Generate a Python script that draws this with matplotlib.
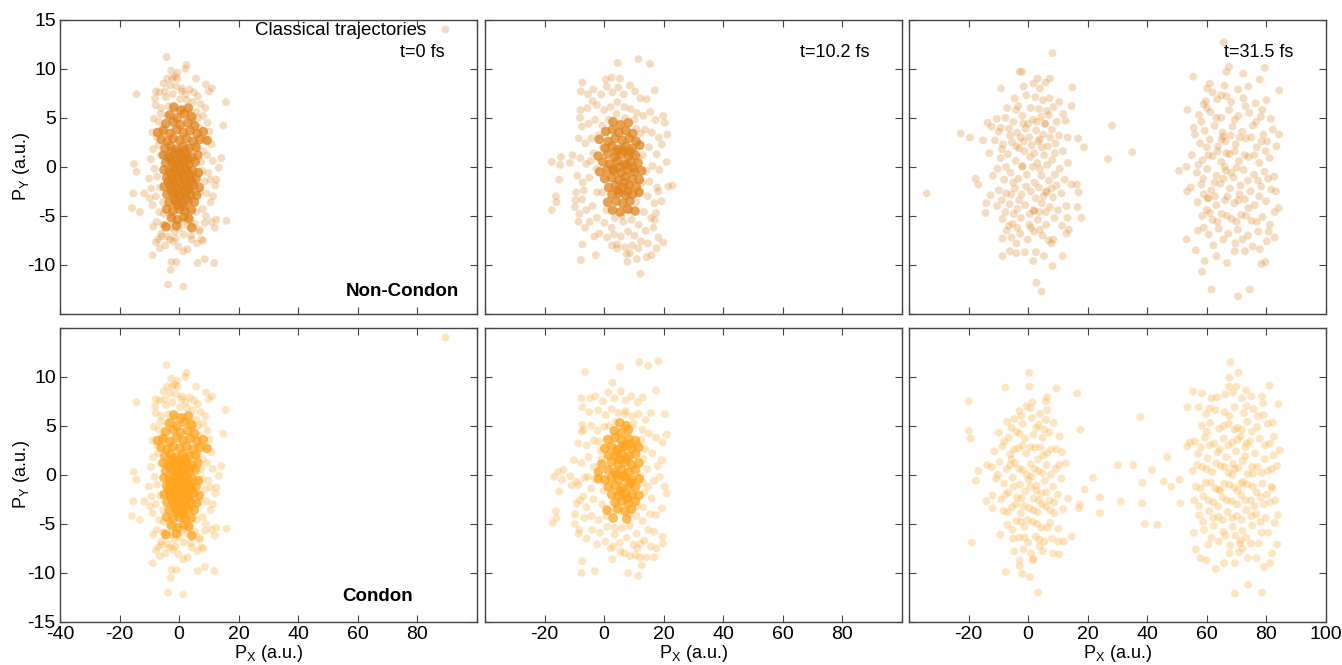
import numpy as np
import matplotlib
matplotlib.use('Agg')
import matplotlib.pyplot as plt
from matplotlib.lines import Line2D

plt.rcParams['font.family'] = ['Liberation Sans', 'DejaVu Sans']
plt.rcParams['axes.unicode_minus'] = False

# (P_x, P_y) in a.u.
# t=0 fs : same initial conditions in both rows
t0_outer = [(-4.2, 11.2), (2.5, 10.4), (2.1, 10.0), (-0.6, 9.6), (-1.4, 9.2), (-4.0, 9.0), (-2.3, 9.0), (5.7, 9.0),
            (-14.3, 7.4), (15.7, 6.6), (9.0, 8.4), (10.0, 7.7), (11.0, 8.0), (-7.8, 7.7), (-4.8, 7.7), (-8.1, 7.0),
            (14.8, 4.2), (-15.2, 0.3), (-14.3, -0.5), (-15.4, -2.7), (-15.8, -4.2), (-13.2, -4.6), (-11.7, -2.7),
            (-9.8, -3.2), (15.9, -5.5), (12.0, -6.2), (12.5, -5.4), (14.2, 0.9), (13.3, -0.1), (12.5, -1.3),
            (10.5, -1.3), (12.2, -1.9), (11.4, -3.0), (-8.9, -9.0), (-2.6, -9.7), (-0.9, -9.7), (-2.8, -10.5),
            (6.2, -9.8), (8.6, -9.4), (11.8, -9.8), (-3.7, -12.0), (1.4, -12.2), (1.4, -8.6), (4.2, -7.4),
            (7.5, -7.4), (8.1, -7.5), (-6.5, -8.3), (-7.8, -7.7), (-5.9, -7.1), (-3.1, -7.4), (-2.0, -7.6),
            (-8.7, -6.1), (-5.3, -5.9), (6.9, -6.4), (8.6, -5.7), (10.9, -5.6),
            (-5.2, 8.5), (-3.0, 8.3), (-1.0, 8.2), (1.0, 8.0), (3.5, 7.9), (5.0, 7.6), (6.3, 7.2), (-6.6, 7.6),
            (-4.4, 7.1), (-2.2, 7.4), (0.3, 6.9), (2.6, 6.8), (4.6, 6.6), (7.2, 6.4), (8.8, 6.0), (-7.9, 6.3),
            (-6.0, 6.0), (-3.5, 6.2), (-1.5, 5.8), (1.5, 5.9), (3.8, 5.5), (5.9, 5.6), (8.1, 5.2), (-8.5, 4.9),
            (-6.8, 4.6), (9.5, 4.5), (10.2, 3.6), (-9.0, 3.5), (-7.5, 3.0), (8.8, 2.8), (10.9, 2.3), (-8.8, 1.8),
            (-9.5, 0.8), (9.4, 1.2), (11.3, 0.6), (-8.2, -0.2), (-10.1, -1.2), (9.8, -0.6), (8.6, -1.5),
            (-9.3, -2.2), (-7.8, -3.0), (9.2, -2.7), (10.6, -3.6), (-8.9, -3.9), (-6.7, -4.6), (7.9, -4.3),
            (9.0, -5.0), (-7.5, -5.6), (-5.0, -5.9), (-2.6, -6.1), (0.2, -6.3), (2.8, -6.0), (5.4, -5.8),
            (6.8, -6.6), (-6.0, -6.8), (-3.8, -7.1), (-1.2, -7.3), (1.6, -6.9), (4.0, -7.0), (-4.6, -8.0),
            (-0.3, -8.1), (2.8, -8.4), (-7.0, -7.4), (6.0, -7.8), (-3.0, -4.9), (3.4, -5.2), (-5.6, 3.9),
            (6.8, 4.0), (-6.4, -2.1), (6.9, -2.6), (-6.1, 1.2), (7.4, 0.5), (-5.4, -3.6), (6.2, 2.0),
            (-4.0, 5.2), (4.5, 4.7), (0.9, 7.7), (-2.7, 9.8), (-7.0, 2.2), (-7.4, -1.0), (7.8, -0.4), (8.0, 1.6),
            (-6.2, 5.4), (6.4, 5.0), (-5.2, -4.8), (5.8, -4.6), (-1.6, -6.6), (1.0, -5.6), (2.2, 7.4), (-0.6, 9.0)]
t0_core = [(-1.8, 6.1), (0.6, 5.8), (3.1, 6.0), (-3.2, 5.3), (-0.7, 5.0), (1.8, 5.4), (4.2, 5.1),
           (-4.5, 4.4), (-2.0, 4.6), (0.4, 4.3), (2.9, 4.5), (5.2, 4.2),
           (-7.2, 3.5), (-5.3, 3.7), (-3.1, 3.4), (-0.9, 3.8), (1.4, 3.5), (3.7, 3.7), (6.0, 3.4), (8.1, 3.6),
           (-6.0, 2.8), (-4.1, 2.6), (-2.0, 2.9), (0.2, 2.7), (2.5, 2.9), (4.7, 2.6), (7.0, 2.8), (9.4, 2.7),
           (-4.8, 1.9), (-2.9, 2.1), (-0.8, 1.8), (1.3, 2.1), (3.4, 1.9), (5.6, 2.0),
           (-5.3, 1.2), (-3.6, 1.0), (-1.6, 1.3), (0.4, 1.1), (2.3, 1.3), (4.3, 1.0), (6.3, 1.2),
           (-4.5, 0.4), (-2.5, 0.5), (-0.5, 0.3), (1.5, 0.6), (3.4, 0.3), (5.4, 0.5),
           (-5.1, -0.3), (-3.3, -0.5), (-1.3, -0.2), (0.6, -0.5), (2.5, -0.3), (4.6, -0.4), (6.5, -0.6),
           (-4.2, -1.1), (-2.2, -1.3), (-0.3, -1.0), (1.7, -1.3), (3.7, -1.1), (5.7, -1.2),
           (-5.0, -2.0), (-3.1, -1.9), (-1.1, -2.1), (0.9, -1.9), (2.9, -2.1), (4.8, -1.9), (6.8, -2.1),
           (-4.1, -2.8), (-2.0, -2.7), (0.0, -2.9), (2.0, -2.7), (4.0, -2.8), (5.9, -2.9),
           (-3.3, -3.6), (-1.2, -3.5), (0.9, -3.7), (3.0, -3.5), (5.1, -3.6),
           (-4.2, -4.3), (-2.1, -4.5), (0.0, -4.3), (2.0, -4.5), (4.1, -4.4),
           (-2.6, -5.2), (-0.6, -5.4), (1.6, -5.1), (3.3, -5.3), (-4.4, -6.1), (-0.9, -6.0), (4.3, -6.2),
           (-2.4, 1.6), (-0.2, 1.5), (2.0, 1.7), (-3.0, 0.8), (-0.9, 0.7), (1.0, 0.9), (3.0, 0.8),
           (-2.0, -0.1), (0.1, 0.1), (2.0, 0.0), (-2.8, -0.8), (-0.7, -0.7), (1.3, -0.8), (3.3, -0.7),
           (-1.7, -1.6), (0.4, -1.5), (2.4, -1.6), (-2.6, -2.4), (-0.5, -2.3), (1.6, -2.4), (3.5, -2.3),
           (-1.6, -3.2), (0.4, -3.1), (2.5, -3.2), (-0.6, -3.9), (1.5, -4.0), (-3.6, -1.5), (4.2, -1.5)]

# t=10.2 fs, Non-Condon
t10_nc_outer = [(4.5, 10.6), (11.5, 11.0), (15.4, 10.5), (-7.3, 8.6), (-7.8, 7.7), (0.6, 8.9), (2.5, 9.1),
                (5.3, 9.0), (17.0, 7.8), (-3.9, 6.7), (-7.9, 5.8), (-8.1, 5.0), (19.8, 5.2), (20.4, 4.5),
                (21.2, 3.3), (21.0, 0.5), (21.5, -2.0), (23.0, -1.9), (-14.5, 1.0), (-17.6, 0.5), (-14.8, 0.2),
                (-11.5, 0.4), (-15.1, -1.3), (-16.2, -3.0), (-16.0, -3.6), (-17.6, -4.4), (-9.6, -3.4),
                (-9.8, -4.1), (-8.3, -4.8), (-6.4, -6.2), (-7.3, -7.9), (-7.8, -9.5), (-2.8, -9.0), (-3.3, -7.1),
                (7.8, -9.7), (12.2, -10.9), (14.3, -9.2), (15.9, -9.0), (17.6, -8.3), (19.8, -7.7), (18.2, -7.2),
                (11.5, -8.3), (8.7, -8.8), (7.0, -8.2), (4.4, -7.9), (17.0, -5.4), (17.4, -4.7), (18.2, -2.5),
                (19.3, -3.5),
                (-3.6, 7.9), (-1.0, 7.4), (0.9, 8.2), (2.8, 7.6), (4.8, 8.1), (6.6, 7.4), (8.7, 8.3), (10.4, 7.7),
                (12.2, 7.0), (14.3, 6.9), (-5.6, 6.0), (-2.4, 6.3), (0.0, 5.8), (2.2, 6.1), (4.4, 6.6), (6.8, 6.1),
                (8.9, 5.9), (11.0, 5.5), (13.2, 5.2), (15.5, 5.6), (17.2, 4.8), (-7.5, 4.1), (-5.2, 4.4),
                (-3.0, 4.8), (13.8, 3.8), (16.0, 3.5), (18.4, 3.0), (-8.5, 2.9), (-6.3, 2.4), (-4.2, 2.9),
                (15.1, 2.0), (17.6, 1.3), (19.4, 2.3), (-10.6, 1.2), (-8.0, 0.9), (-6.0, 0.3), (16.2, 0.1),
                (18.5, -0.3), (-9.0, -0.9), (-7.2, -1.6), (-5.0, -1.1), (15.2, -1.5), (17.8, -2.1), (-9.4, -2.6),
                (-7.4, -3.3), (14.6, -3.0), (16.9, -3.7), (-6.0, -4.4), (-3.9, -4.0), (13.4, -4.6), (15.8, -5.2),
                (-4.8, -5.6), (-2.4, -5.2), (0.1, -5.7), (2.5, -6.2), (11.6, -5.9), (13.9, -6.5), (-1.6, -6.8),
                (1.0, -7.2), (3.3, -6.9), (5.6, -7.1), (8.0, -6.6), (10.2, -7.0), (12.4, -7.6), (14.7, -7.8),
                (4.4, -8.3), (9.4, -8.0), (6.4, -5.6), (9.2, -5.4), (-0.6, 4.2), (10.8, 3.9), (12.0, -2.4),
                (-2.4, -2.6), (-3.6, 1.4), (11.4, 1.0), (7.6, -8.9),
                (-1.8, 3.2), (-0.4, 2.0), (-2.6, -0.2), (-0.6, -2.6), (0.8, -4.4), (3.6, -5.2), (6.0, -5.0),
                (8.4, -4.4), (10.8, -3.6), (12.8, -1.6), (13.0, 1.2), (12.2, 3.4), (10.2, 4.8), (7.0, 5.0),
                (4.2, 5.4), (1.6, 4.8), (-4.6, 0.6), (-6.8, -2.4), (14.2, -0.4), (2.6, -8.0), (11.0, -9.4),
                (-5.4, 7.4), (16.6, -6.2), (-8.6, -5.6)]
t10_nc_core = [(3.0, 4.6), (5.5, 4.3), (8.1, 4.5), (0.5, 3.6), (2.8, 3.8), (5.0, 3.5), (7.3, 3.7), (9.6, 3.4),
               (-1.6, 2.8), (1.4, 2.6), (3.7, 2.9), (6.1, 2.7), (8.4, 2.9), (10.8, 2.6),
               (0.3, 1.9), (2.6, 2.1), (4.9, 1.8), (7.2, 2.1), (9.5, 1.9), (12.0, 2.2),
               (-2.0, 1.1), (1.2, 1.3), (3.6, 1.0), (5.9, 1.3), (8.2, 1.1), (10.5, 1.2),
               (-0.4, 0.5), (2.0, 0.3), (4.4, 0.6), (6.7, 0.3), (9.0, 0.5), (11.4, 0.4),
               (-1.5, -0.5), (1.0, -0.3), (3.3, -0.4), (5.6, -0.6), (7.9, -0.3), (10.2, -0.5), (12.6, -0.4),
               (0.2, -1.2), (2.6, -1.1), (4.9, -1.3), (7.2, -1.0), (9.5, -1.2), (11.8, -1.3),
               (1.5, -2.1), (3.8, -1.9), (6.1, -2.1), (8.4, -1.9), (10.7, -2.0),
               (2.6, -2.8), (4.9, -2.7), (7.3, -2.9), (9.6, -2.8), (11.7, -2.6),
               (1.2, -3.6), (4.0, -3.5), (6.3, -3.7), (8.6, -3.5), (2.8, -4.4), (5.4, -4.6), (7.9, -4.3),
               (10.4, -4.5), (4.0, 1.6), (6.4, 1.7), (8.8, 1.5), (5.2, 0.0), (7.6, 0.2), (3.0, -0.2),
               (6.8, -1.6), (4.6, -2.4), (8.0, -2.5), (9.8, -0.1)]

# t=10.2 fs, Condon
t10_c_outer = [(-6.4, 10.5), (5.3, 11.0), (11.8, 11.5), (14.8, 11.1), (18.2, 11.6), (2.8, 9.4), (17.4, 8.6),
               (-7.6, 7.8), (-7.3, 6.9), (20.4, 6.2), (-7.3, 5.1), (-7.6, 4.4), (21.0, 4.1), (19.6, 3.3),
               (19.3, 1.5), (-16.8, -0.2), (-15.4, 0.3), (-13.7, 0.5), (-14.1, -0.5), (-11.3, -0.15),
               (-10.9, -1.1), (-9.2, -0.7), (-15.1, -1.7), (-16.2, -3.7), (-16.0, -4.4), (-17.3, -4.9),
               (-9.8, -5.0), (-8.3, -5.6), (-5.9, -6.5), (-7.3, -8.8), (-7.6, -10.0), (-3.1, -9.8), (8.1, -10.0),
               (11.5, -10.3), (8.7, -8.3), (12.0, -8.4), (14.2, -8.4), (16.8, -8.4), (17.6, -7.5), (19.8, -7.0),
               (19.6, -6.3), (5.5, -7.8), (3.1, -7.3), (11.1, -7.5), (17.4, -4.1), (19.3, -3.4), (21.0, -1.9),
               (20.4, -1.2), (18.7, -0.2), (-9.8, -4.0), (-9.2, -2.9),
               (-3.0, 8.0), (-0.4, 7.5), (1.4, 8.4), (3.5, 7.8), (5.6, 8.5), (7.2, 7.6), (9.1, 8.0), (11.3, 7.4),
               (13.0, 7.9), (-5.0, 6.4), (-2.0, 6.6), (0.5, 6.1), (2.6, 6.7), (4.8, 6.3), (7.3, 6.5), (9.5, 6.0),
               (11.6, 6.2), (13.9, 5.6), (15.7, 6.3), (-6.9, 4.6), (-4.4, 5.0), (-2.2, 4.5), (0.0, 4.9),
               (12.8, 4.6), (15.0, 4.2), (17.4, 3.8), (-8.7, 3.2), (-5.8, 3.0), (-3.5, 3.5), (13.9, 2.6),
               (16.2, 2.2), (18.0, 0.9), (-10.2, 1.5), (-7.6, 1.2), (-5.2, 1.8), (-3.4, 0.8), (14.5, 0.6),
               (16.8, -0.6), (-8.6, -1.0), (-6.5, -0.3), (-4.3, -1.4), (13.6, -1.8), (15.9, -2.4), (-8.1, -2.6),
               (-6.0, -3.3), (-3.6, -2.5), (13.2, -3.3), (15.5, -4.0), (-6.6, -4.4), (-4.2, -4.2), (-1.8, -4.6),
               (12.9, -4.7), (14.8, -5.6), (-4.0, -5.6), (-1.4, -5.9), (1.0, -5.3), (3.6, -6.1), (10.9, -6.0),
               (13.5, -6.7), (-2.4, -7.1), (0.4, -6.8), (2.2, -7.5), (5.3, -6.9), (7.6, -6.4), (9.8, -7.1),
               (12.2, -7.0), (15.6, -7.3), (6.8, -8.0), (10.6, -8.2), (8.6, -5.2), (10.8, -4.2), (-1.2, 2.4),
               (-0.2, -1.6), (12.2, 0.0), (11.4, 3.2),
               (-1.8, 3.4), (-0.8, 1.6), (-3.0, -0.4), (-0.6, -3.0), (0.8, -4.2), (3.6, -5.4), (6.0, -5.4),
               (8.6, -4.0), (11.0, -3.2), (13.0, -0.8), (13.2, 1.6), (12.6, 3.6), (10.0, 5.2), (7.0, 6.2),
               (4.0, 5.4), (1.6, 5.0), (-5.4, -0.2), (-7.0, -2.2), (14.8, -1.2), (2.8, -8.6), (12.6, -9.2),
               (-4.6, 7.8), (16.8, -5.8), (-8.6, -6.0)]
t10_c_core = [(5.3, 5.3), (7.4, 5.0), (3.4, 4.5), (5.8, 4.3), (8.2, 4.6),
              (1.2, 3.6), (3.6, 3.8), (5.9, 3.5), (8.2, 3.7), (10.5, 3.5),
              (0.2, 2.7), (2.5, 2.9), (4.8, 2.6), (7.1, 2.9), (9.4, 2.7), (11.6, 2.8),
              (1.4, 2.0), (3.7, 1.9), (6.0, 2.1), (8.3, 1.9), (10.6, 2.1),
              (-0.8, 1.1), (2.4, 1.3), (4.7, 1.1), (7.0, 1.3), (9.3, 1.0), (11.7, 1.2),
              (-1.9, 0.3), (1.3, 0.5), (3.6, 0.3), (5.9, 0.5), (8.2, 0.3), (10.5, 0.5),
              (-2.0, -0.4), (0.3, -0.5), (2.5, -0.3), (4.8, -0.5), (7.1, -0.3), (9.4, -0.5), (11.8, -0.4),
              (1.4, -1.2), (3.7, -1.1), (6.0, -1.3), (8.3, -1.1), (10.6, -1.2),
              (2.5, -2.0), (4.8, -2.1), (7.1, -1.9), (9.4, -2.0), (11.7, -2.1),
              (3.6, -2.8), (5.9, -2.7), (8.2, -2.9), (10.5, -2.7), (1.0, -3.6), (4.4, -3.5), (6.9, -3.7),
              (9.2, -3.5), (3.0, -4.4), (7.6, -4.5), (5.2, 1.6), (7.6, 1.6), (4.2, 0.0), (6.6, -0.1),
              (8.8, -0.8), (5.5, -1.7), (7.8, -2.4), (6.4, 3.0), (8.6, 3.1), (4.1, 2.4)]

# t=31.5 fs, Non-Condon (two groups plus a few in between)
t31_nc = [(8.2, 11.6), (-2.8, 9.7), (-2.0, 9.7), (-9.1, 8.0), (3.2, 9.0), (7.3, 9.0), (14.9, 8.1), (14.6, 6.2),
          (-13.6, 4.5), (-22.6, 3.4), (-19.5, 3.0), (-15.1, 2.7), (16.8, 2.9), (18.8, 2.0), (-34.0, -2.7),
          (-17.6, -1.2), (-16.7, -1.8), (-14.0, -3.7), (-14.3, -4.7), (16.4, -1.8), (17.0, -2.6), (16.6, -4.1),
          (17.9, -5.2), (13.2, -5.2), (13.7, -6.4), (12.9, -6.8), (8.4, -7.4), (7.9, -7.8), (11.6, -9.1),
          (8.2, -10.1), (5.3, -9.1), (1.7, -9.6), (2.6, -8.7), (-1.1, -8.7), (-3.9, -8.8), (-6.1, -8.6),
          (-8.6, -9.1), (-8.6, -7.3), (-7.2, -6.5), (-3.9, -7.8), (2.8, -11.8), (4.5, -12.7), (-9.1, 4.0),
          (-1.5, 8.2), (1.8, 8.5), (4.0, 8.0), (5.9, 8.6), (-4.5, 7.0), (-0.6, 7.3), (2.4, 7.1), (5.0, 6.8),
          (7.2, 7.0), (10.5, 6.6), (-3.3, 6.2), (0.9, 6.0), (3.6, 5.9), (6.3, 5.7), (8.5, 6.1), (11.8, 5.4),
          (-10.5, 4.9), (-7.6, 5.0), (-5.0, 4.6), (-1.9, 5.2), (1.7, 4.8), (4.4, 5.1), (5.8, 4.4), (9.6, 4.6),
          (12.6, 4.7), (-12.3, 4.1), (-9.9, 3.6), (-6.4, 3.9), (-3.7, 3.5), (-0.8, 3.9), (2.7, 3.7), (5.1, 3.3),
          (8.0, 3.8), (10.4, 3.2), (13.3, 3.0), (-11.1, 2.7), (-8.4, 2.3), (-5.4, 2.5), (-3.0, 1.9), (-1.5, 2.6),
          (1.2, 2.2), (3.9, 2.8), (6.6, 2.1), (9.2, 2.4), (11.7, 1.6), (-13.0, 1.4), (-9.2, 0.9), (-6.8, 1.3),
          (-4.1, 0.6), (-1.9, 0.1), (0.7, 1.0), (3.1, 0.4), (5.4, 1.2), (8.1, 0.7), (10.6, -0.2), (13.4, 0.4),
          (-11.8, -0.9), (-8.0, -1.3), (-5.9, -0.6), (-3.2, -1.2), (-0.4, -0.8), (2.2, -1.6), (4.5, -0.9),
          (7.0, -1.4), (9.6, -1.9), (12.3, -1.3), (14.6, -1.8), (-12.6, -2.9), (-9.8, -2.4), (-7.4, -2.7),
          (-4.4, -2.2), (-2.1, -2.8), (0.9, -2.5), (3.6, -2.1), (6.0, -2.6), (8.4, -3.1), (11.2, -2.7),
          (-10.4, -4.0), (-6.2, -3.8), (-3.6, -4.3), (-1.0, -3.9), (1.9, -4.4), (4.6, -3.7), (7.3, -4.1),
          (10.0, -4.4), (12.9, -4.0), (-8.6, -5.3), (-5.2, -5.8), (-2.4, -5.2), (0.4, -5.9), (3.3, -5.4),
          (6.1, -5.9), (8.9, -5.2), (11.4, -6.0), (-5.6, -7.2), (-2.7, -6.8), (-0.1, -7.4), (2.0, -6.6),
          (4.8, -7.0), (6.9, -7.5), (-1.9, 0.0), (5.6, 4.4), (6.2, -2.5), (2.0, -4.5), (-3.9, 2.1), (3.4, 2.6),
          (-7.0, 6.0), (-4.0, 5.8), (0.0, 4.4), (3.0, 4.6), (7.0, 5.3), (-8.8, 1.8), (-6.0, 3.2), (-2.4, 3.0),
          (0.4, 3.0), (2.0, 1.4), (4.6, 2.0), (7.4, 3.0), (-10.2, -0.2), (-7.4, 0.0), (-5.0, -1.6), (-1.2, 1.6),
          (1.6, 0.0), (4.0, -0.2), (6.4, 0.2), (9.0, -0.8), (-8.8, -3.4), (-5.6, -2.8), (-3.0, -3.4),
          (-0.6, -2.0), (2.6, -3.2), (5.2, -3.0), (7.8, -2.2), (-7.6, -4.6), (-4.8, -4.8), (0.6, -4.8),
          (3.8, -4.6), (6.0, -4.6), (-3.6, -6.2), (1.0, -6.2), (4.0, -6.4), (-1.6, 4.4), (9.0, 1.4), (-6.4, -6.0),
          (28.2, 4.2), (26.8, 0.8), (35.0, 1.5),
          (65.7, 12.7), (67.5, 10.2), (66.6, 9.7), (72.2, 9.5), (79.5, 10.1), (55.4, 9.2), (61.0, 8.5),
          (60.1, 8.0), (77.8, 8.9), (84.3, 7.8), (53.5, 5.8), (59.7, 6.7), (64.9, 7.3), (50.7, -0.4), (53.2, 0.0),
          (53.4, -2.5), (56.0, 3.3), (84.3, 3.3), (83.4, 2.1), (82.6, -1.0), (83.2, -2.5), (84.2, -4.2),
          (82.8, -4.6), (81.2, -5.9), (80.8, -6.6), (82.8, -7.2), (77.8, -8.4), (79.7, -9.7), (78.4, -9.9),
          (53.2, -7.4), (56.3, -8.5), (59.3, -9.6), (58.4, -10.7), (63.3, -9.1), (66.8, -9.8), (69.4, -8.6),
          (72.8, -8.6), (61.6, -12.5), (70.5, -13.2), (74.4, -12.5),
          (62.0, 7.6), (66.0, 8.3), (70.5, 7.9), (74.0, 8.2), (59.0, 6.4), (63.5, 6.9), (68.2, 6.6), (72.3, 7.0),
          (76.4, 6.5), (80.0, 6.8), (57.4, 5.3), (61.2, 5.6), (64.8, 5.0), (67.5, 5.8), (70.6, 5.2), (74.3, 5.5),
          (78.2, 5.1), (81.5, 4.9), (55.6, 4.0), (59.3, 3.7), (62.6, 4.2), (65.4, 3.5), (68.6, 4.1), (71.9, 3.6),
          (75.5, 4.2), (79.0, 3.3), (82.2, 3.8), (57.8, 2.4), (61.0, 2.8), (63.8, 2.1), (66.3, 2.6), (69.7, 2.3),
          (73.1, 2.9), (76.8, 2.0), (80.3, 2.6), (55.0, 1.2), (58.6, 0.7), (62.0, 1.1), (64.9, 0.5), (67.6, 1.3),
          (70.8, 0.6), (74.0, 1.0), (77.6, 0.4), (81.1, 0.9), (56.7, -0.6), (60.2, -0.2), (63.3, -0.9),
          (66.4, -0.4), (69.0, -1.1), (72.4, -0.3), (75.9, -0.8), (79.4, -0.5), (54.6, -2.1), (58.2, -1.8),
          (61.5, -2.4), (64.6, -1.7), (67.8, -2.2), (71.3, -1.9), (74.7, -2.5), (78.3, -2.0), (81.6, -2.3),
          (56.9, -3.6), (60.4, -3.2), (63.2, -3.9), (66.1, -3.4), (69.3, -3.7), (72.8, -3.3), (76.1, -3.9),
          (79.9, -3.5), (58.5, -5.0), (61.9, -5.4), (65.0, -4.8), (68.4, -5.3), (71.6, -4.9), (75.0, -5.5),
          (78.7, -5.1), (57.0, -6.5), (60.7, -6.9), (64.0, -6.3), (67.2, -6.8), (70.4, -6.4), (73.8, -7.0),
          (77.3, -6.6), (62.2, -8.0), (69.6, -7.8), (75.4, -8.1), (66.6, 1.4), (70.0, -0.1), (60.5, -3.2),
          (61.0, -4.7), (65.5, 3.1),
          (60.0, 6.0), (66.6, 7.2), (73.0, 6.2), (78.6, 5.8), (58.2, 4.6), (63.2, 5.0), (69.4, 4.8), (76.6, 4.6),
          (60.0, 2.0), (65.0, 2.8), (68.0, 3.2), (71.0, 3.0), (75.0, 3.0), (78.4, 2.6), (57.2, 0.2), (60.6, 1.2),
          (63.6, 1.6), (66.0, 0.0), (69.4, 1.6), (72.8, 1.2), (76.0, 1.2), (79.8, 1.6), (58.8, -1.2),
          (62.6, -1.6), (65.6, -1.2), (68.2, -0.6), (71.0, -2.8), (73.8, -1.4), (77.2, -1.4), (80.6, -1.2),
          (59.0, -2.8), (62.8, -3.0), (67.0, -3.0), (70.6, -3.4), (74.0, -4.2), (77.6, -3.0), (60.0, -4.4),
          (63.6, -5.6), (66.8, -5.0), (70.0, -5.6), (73.2, -5.0), (76.8, -5.6), (59.0, -6.2), (65.6, -7.4),
          (72.0, -7.4), (80.2, -7.6)]

# t=31.5 fs, Condon
t31_c = [(-19.9, 7.5), (0.4, 10.4), (0.4, 9.0), (-7.6, 8.9), (9.5, 8.8), (16.5, 8.3), (6.4, 7.9), (1.5, 7.4),
         (-0.5, 7.0), (6.0, 7.5), (-19.9, 4.5), (-19.3, 3.7), (17.6, 4.6), (-13.7, 1.0), (-16.7, 0.4),
         (-17.5, -0.6), (-14.0, -2.7), (-11.9, -3.4), (21.8, -0.3), (19.0, -1.5), (17.4, -3.0), (17.1, -3.4),
         (14.6, -6.3), (12.0, -6.8), (10.1, -6.8), (10.4, -8.1), (8.4, -8.0), (-18.9, -6.9), (-9.3, -6.1),
         (-5.0, -6.5), (-4.7, -7.8), (-2.8, -8.7), (-2.8, -9.3), (1.7, -8.6), (-7.5, -9.9), (-2.0, -10.1),
         (0.6, -10.4), (3.4, -12.0), (3.9, -7.3),
         (-2.9, 6.5), (0.8, 6.8), (4.0, 6.2), (6.4, 6.6), (-7.0, 5.4), (-4.6, 5.7), (-1.8, 5.2), (1.3, 5.8),
         (3.6, 5.1), (6.0, 5.6), (8.6, 5.3), (-9.8, 4.3), (-6.4, 3.8), (-3.9, 4.4), (-1.0, 3.7), (1.8, 4.1),
         (4.9, 3.8), (7.1, 4.3), (10.6, 3.9), (-11.3, 2.4), (-8.6, 2.9), (-5.9, 2.1), (-3.2, 2.7), (-0.6, 2.2),
         (2.3, 2.8), (5.1, 2.0), (7.8, 2.6), (11.4, 2.3), (-12.2, 0.8), (-9.6, 1.3), (-7.1, 0.6), (-4.4, 1.2),
         (-1.8, 0.5), (0.9, 1.1), (3.5, 0.4), (6.2, 1.0), (9.3, 0.6), (12.6, 1.2), (-10.7, -0.4), (-8.0, -0.9),
         (-5.2, -0.3), (-2.6, -1.0), (0.2, -0.5), (2.8, -1.1), (5.6, -0.6), (8.4, -1.2), (11.2, -0.4),
         (-11.9, -2.1), (-9.0, -2.5), (-6.6, -1.8), (-3.7, -2.3), (-1.0, -1.7), (1.9, -2.4), (4.4, -1.9),
         (7.2, -2.6), (10.0, -2.0), (13.5, -2.4), (-8.2, -3.7), (-5.4, -3.3), (-2.5, -3.9), (0.4, -3.4),
         (3.2, -3.8), (6.0, -3.2), (8.8, -3.9), (11.8, -3.5), (-6.9, -5.1), (-3.9, -4.7), (-1.2, -5.3),
         (1.6, -4.8), (4.5, -5.4), (7.4, -4.9), (10.3, -5.5), (-3.0, -6.4), (0.0, -6.9), (2.6, -6.3),
         (5.5, -6.8), (8.0, -6.5), (-1.5, -7.6), (1.0, -8.0), (5.0, -7.8), (-2.8, 4.2), (4.2, 2.8),
         (-5.6, 1.6), (1.1, -0.2), (2.8, -1.6), (-0.2, -4.6), (1.7, -8.7),
         (-5.6, 4.8), (-2.2, 6.0), (2.8, 4.8), (5.4, 4.6), (-8.0, 3.4), (-4.6, 2.6), (-1.8, 3.0), (0.8, 2.8),
         (3.4, 1.6), (6.4, 2.2), (9.6, 2.6), (-10.2, 0.0), (-6.0, 1.0), (-3.0, 0.6), (-0.4, 0.0), (2.2, 0.6),
         (4.8, 0.2), (7.6, 0.0), (10.4, 1.0), (-7.6, -2.0), (-4.8, -1.2), (-2.2, -2.4), (0.8, -1.2),
         (3.6, -2.6), (6.2, -1.8), (8.8, -2.8), (-6.8, -3.8), (-4.0, -3.0), (-1.4, -3.2), (1.8, -3.6),
         (4.6, -3.0), (7.4, -3.6), (-5.2, -5.6), (-2.4, -4.8), (3.0, -5.0), (6.4, -5.4), (-1.2, -6.4), (3.8, -6.6),
         (37.7, 5.9), (30.2, 1.0), (35.3, 1.0), (41.6, 0.5), (46.7, 1.8), (38.4, -0.8), (45.6, -0.7),
         (31.1, -2.7), (38.3, -2.9), (24.2, -2.3), (24.2, -3.9), (39.2, -5.0), (43.4, -5.1), (48.1, -1.2),
         (50.9, -0.5), (51.2, -2.9), (54.3, 3.3), (53.5, 2.9),
         (68.0, 11.5), (70.7, 10.4), (67.5, 9.9), (67.5, 9.0), (69.9, 9.0), (68.8, 8.4), (55.4, 8.5),
         (58.4, 8.3), (53.5, 6.9), (57.3, 6.9), (61.6, 7.8), (81.1, 9.1), (84.1, 7.2), (78.6, 8.0), (73.3, 8.6),
         (78.9, 7.3), (82.2, 5.3), (82.5, 3.9), (84.5, 2.5), (83.6, 0.9), (81.7, -1.2), (83.0, -2.6),
         (83.9, -4.1), (82.8, -4.9), (80.6, -5.9), (83.6, -7.1), (81.9, -8.0), (81.3, -9.0), (79.2, -9.4),
         (76.7, -8.5), (73.9, -8.5), (69.4, -9.0), (65.8, -9.0), (63.0, -9.6), (59.9, -8.7), (57.9, -8.5),
         (56.3, -7.6), (55.7, -5.9), (73.9, -11.2), (69.4, -12.1), (78.6, -12.0), (71.1, -7.0), (72.0, -7.5),
         (67.7, -8.0), (70.8, -7.9),
         (63.4, 7.9), (66.2, 8.2), (71.8, 7.8), (75.0, 8.0), (59.8, 6.2), (62.9, 6.6), (66.0, 6.4), (69.3, 6.9),
         (72.5, 6.3), (75.7, 6.7), (79.1, 6.1), (58.3, 5.0), (61.1, 5.3), (64.2, 4.7), (67.4, 5.2), (70.3, 4.8),
         (73.6, 5.4), (76.9, 4.9), (80.4, 5.2), (56.0, 3.4), (59.4, 3.8), (62.5, 3.2), (65.6, 3.7), (68.7, 3.3),
         (71.4, 3.9), (74.6, 3.4), (77.8, 3.7), (81.2, 3.2), (57.1, 2.1), (60.3, 1.7), (63.6, 2.3), (66.6, 1.8),
         (69.8, 2.4), (72.9, 1.9), (76.2, 2.2), (79.5, 1.6), (82.4, 2.0), (55.2, 0.4), (58.5, 0.8), (61.8, 0.3),
         (64.7, 0.9), (67.3, 0.2), (70.6, 0.7), (73.8, 0.1), (77.0, 0.8), (80.6, 0.4), (56.4, -1.2),
         (59.7, -0.8), (62.9, -1.4), (65.9, -0.9), (69.2, -1.3), (72.1, -0.7), (75.4, -1.2), (78.7, -0.9),
         (82.0, -1.4), (55.8, -2.6), (58.9, -2.2), (62.2, -2.8), (65.3, -2.3), (68.4, -2.7), (71.6, -2.1),
         (74.9, -2.6), (78.1, -2.3), (81.3, -2.8), (57.5, -4.1), (60.8, -3.7), (63.9, -4.3), (67.0, -3.8),
         (70.1, -4.2), (73.3, -3.6), (76.6, -4.0), (79.8, -4.4), (59.1, -5.6), (62.4, -5.2), (65.6, -5.8),
         (68.8, -5.3), (72.0, -5.7), (75.3, -5.2), (78.4, -5.9), (60.5, -7.1), (64.1, -6.8), (67.9, -7.2),
         (71.4, -6.7), (74.8, -7.0), (73.0, 2.8), (68.8, 1.1), (68.6, 0.0), (71.6, -0.9), (75.5, 0.1),
         (69.4, 4.6), (64.0, -1.5),
         (61.0, 6.8), (67.6, 6.0), (73.4, 7.0), (77.2, 6.0), (60.0, 4.4), (65.6, 5.0), (71.8, 4.6), (75.2, 4.4),
         (58.0, 2.8), (61.0, 3.0), (64.4, 2.6), (67.2, 3.0), (70.4, 3.6), (73.4, 3.2), (79.6, 3.0), (56.8, 1.0),
         (60.0, 0.6), (63.2, 1.2), (66.0, 0.8), (69.4, 0.6), (72.0, 1.4), (75.2, 0.8), (78.4, 0.2), (81.8, 0.6),
         (58.0, -1.4), (61.4, -0.8), (64.6, -1.6), (67.6, -1.0), (70.4, -1.6), (73.6, -1.0), (76.8, -1.8),
         (80.2, -2.0), (57.4, -3.2), (60.6, -2.6), (63.8, -3.2), (66.8, -2.6), (70.2, -3.0), (73.0, -2.6),
         (76.0, -3.2), (79.2, -3.0), (58.8, -4.8), (62.2, -4.4), (65.4, -4.6), (68.6, -4.4), (71.8, -4.6),
         (75.0, -4.2), (78.0, -4.8), (61.6, -6.4), (66.2, -6.2), (69.6, -6.2), (73.2, -6.4), (77.4, -7.0)]

times = ['t=0 fs', 't=10.2 fs', 't=31.5 fs']
models = ['Non-Condon', 'Condon']
colors = ['#E0821A', '#FFA31A']
panels = [[(t0_outer, t0_core), (t10_nc_outer, t10_nc_core), (t31_nc, [])],
          [(t0_outer, t0_core), (t10_c_outer, t10_c_core), (t31_c, [])]]

xticks = np.arange(-40, 101, 20)
yticks = np.arange(-15, 16, 5)

fig = plt.figure(figsize=(13.42, 6.65), dpi=100)
lefts = [0.0447, 0.3614, 0.6773]
bottoms = [0.5278, 0.0647]
w, h = 0.3107, 0.4425
ms = 32

for r in range(2):
    for c in range(3):
        ax = fig.add_axes([lefts[c], bottoms[r], w, h])
        outer, core = panels[r][c]
        ox, oy = np.array(outer).T
        ax.scatter(ox, oy, s=ms, color=colors[r], alpha=0.28, edgecolors='none', zorder=2)
        if core:
            # densely overlapping trajectories form a nearly solid blob
            cx, cy = np.array(core).T
            ax.scatter(cx, cy, s=48, color=colors[r], alpha=0.75, edgecolors='none', zorder=2)
        ax.set_xlim(-40, 100)
        ax.set_ylim(-15, 15)
        ax.set_xticks(xticks)
        ax.set_yticks(yticks)
        ax.tick_params(direction='in', top=True, right=True, length=5, width=0.8,
                       labelsize=14, color='#444444', pad=3)
        for sp in ax.spines.values():
            sp.set_color('#444444')
            sp.set_linewidth(1.0)

        # tick labels only on the outer edges, skip the ones that would clash
        if r == 1:
            xl = [str(v) for v in xticks]
            if c == 0:
                xl[-1] = ''
            if c == 1:
                xl[0] = ''
                xl[-1] = ''
            if c == 2:
                xl[0] = ''
            ax.set_xticklabels(xl)
            ax.set_xlabel('P$_{\\mathregular{X}}$ (a.u.)', fontsize=13, labelpad=0)
        else:
            ax.set_xticklabels([])
        if c == 0:
            yl = [str(v) for v in yticks]
            if r == 0:
                yl[0] = ''
            else:
                yl[-1] = ''
            ax.set_yticklabels(yl)
            ax.set_ylabel('P$_{\\mathregular{Y}}$ (a.u.)', fontsize=13, labelpad=-3)
        else:
            ax.set_yticklabels([])

        if r == 0:
            ax.text(0.923, 0.888, times[c], transform=ax.transAxes, ha='right', va='center', fontsize=13)

        if c == 0:
            key = Line2D([], [], ls='none', marker='o', ms=np.sqrt(ms), color=colors[r], alpha=0.28, mec='none')
            lab = 'Classical trajectories' if r == 0 else ''
            ax.legend([key], [lab], loc='upper right', bbox_to_anchor=(0.964, 1.017), markerfirst=False,
                      frameon=False, fontsize=13.5, handlelength=1.0, handletextpad=0.5, borderaxespad=0.0)
            if r == 0:
                ax.text(0.957, 0.078, models[r], transform=ax.transAxes, ha='right', va='center',
                        fontsize=13.5, fontweight='bold')
            else:
                ax.text(0.846, 0.088, models[r], transform=ax.transAxes, ha='right', va='center',
                        fontsize=13.5, fontweight='bold')

fig.savefig('out.png', dpi=100)
